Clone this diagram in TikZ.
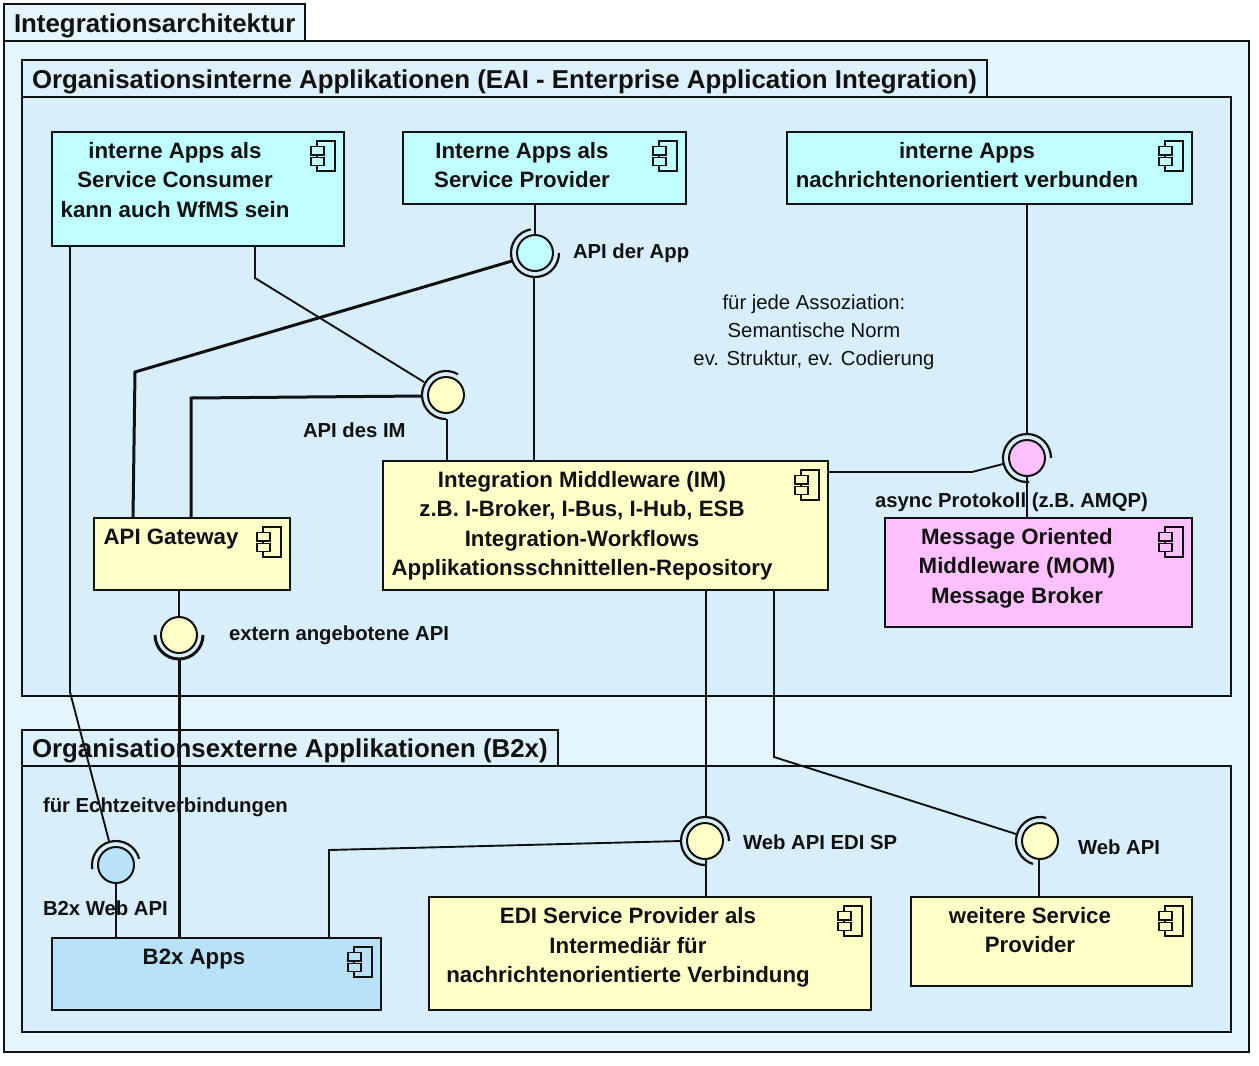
\documentclass[tikz,border=0pt]{standalone}
\usepackage{fontspec}
\setmainfont{Liberation Sans}
\usetikzlibrary{calc}
\definecolor{outerbg}{HTML}{E4F5FE}
\definecolor{innerbg}{HTML}{D8EEFB}
\definecolor{cy}{HTML}{BFFFFF}
\definecolor{ye}{HTML}{FFFFC8}
\definecolor{pk}{HTML}{FFC0FF}
\definecolor{bl}{HTML}{B8E2F8}
\definecolor{ln}{HTML}{111111}
\tikzset{
  x=1pt,y=-1pt,
  every node/.style={font=\fontsize{22.25}{29.5}\selectfont\bfseries,text=ln,inner sep=0pt,outer sep=0pt,align=center},
  boxstyle/.style={draw=ln,line width=1.8pt,rectangle,anchor=north west},
  tabtitle/.style={font=\fontsize{25.85}{30}\selectfont\bfseries,anchor=west},
  lab/.style={font=\fontsize{20.3}{28}\selectfont\bfseries,anchor=west},
  conn/.style={draw=ln,line width=1.9pt},
  heavy conn/.style={draw=ln,line width=3pt},
  ball/.style={circle,draw=ln,line width=2pt,minimum size=36pt},
  sock/.style={draw=ln,line width=2.2pt},
  icon/.style={line width=1.2pt,draw=ln}
}
\newcommand{\compbox}[6]{% name x1 y1 x2 y2 fill
  \node[boxstyle,fill=#6,minimum width=#4pt-#2pt,minimum height=#5pt-#3pt] (#1) at (#2,#3) {};
  \draw[icon] (#4-27,#3+9) rectangle (#4-9,#3+39);
  \draw[icon,fill=#6] (#4-33,#3+14.5) rectangle (#4-20,#3+23);
  \draw[icon,fill=#6] (#4-33,#3+25.5) rectangle (#4-20,#3+33.5);
}
\begin{document}
\begin{tikzpicture}
\useasboundingbox (0,0) rectangle (1259,1066);
\fill[white] (0,0) rectangle (1259,1066);
% packages
\draw[boxstyle,fill=outerbg] (4,4) rectangle (305,41);
\draw[boxstyle,fill=outerbg] (4,41) rectangle (1249,1052);
\draw[boxstyle,fill=innerbg!60!outerbg] (22,60) rectangle (987,97);
\draw[boxstyle,fill=innerbg] (22,97) rectangle (1231,696);
\draw[boxstyle,fill=innerbg!60!outerbg] (22,730) rectangle (558,766);
\draw[boxstyle,fill=innerbg] (22,766) rectangle (1231,1032);
\node[tabtitle] (t1) at (14,26) {Integrationsarchitektur};
\node[tabtitle] (t2) at (32,81.5) {Organisationsinterne Applikationen (EAI - Enterprise Application Integration)};
\node[tabtitle] (t3) at (32,751) {Organisationsexterne Applikationen (B2x)};
% boxes
\compbox{cons}{52}{132}{344}{246}{cy}
\compbox{prov}{403}{132}{686}{204}{cy}
\compbox{msga}{787}{132}{1192}{204}{cy}
\compbox{im}{383}{461}{828}{590}{ye}
\compbox{gw}{94}{518}{290}{590}{ye}
\compbox{mom}{885}{518}{1192}{627}{pk}
\compbox{b2x}{52}{938}{381}{1010}{bl}
\compbox{edi}{429}{897}{871}{1010}{ye}
\compbox{wsp}{911}{897}{1192}{986}{ye}
% free bend points
\coordinate (c1) at (70,692);
\coordinate (c2) at (255,278);
\coordinate (c3) at (135,372);
\coordinate (c4) at (191,398);
\coordinate (c5) at (972,472);
\coordinate (c6) at (774,757);
\coordinate (c7) at (329,850);
% interfaces
\node[ball,fill=cy] (iapp) at (535,253) {};
\node[ball,fill=ye] (iim) at (446,395) {};
\node[ball,fill=pk] (imom) at (1027,458) {};
\node[ball,fill=ye] (iext) at (179,635) {};
\node[ball,fill=bl] (ib2x) at (116,865) {};
\node[ball,fill=ye] (iedi) at (705,841) {};
\node[ball,fill=ye] (iweb) at (1040,841) {};
% sockets (y axis points down, so angles are negated)
\draw[sock] (iapp) ++(-100:24) arc[start angle=-100,end angle=-360,radius=24];
\draw[sock] (iim) ++(-60:24) arc[start angle=-60,end angle=-270,radius=24];
\draw[sock] (imom) ++(0:24) arc[start angle=0,end angle=-275,radius=24];
\draw[sock,line width=3pt] (iext) ++(-180:24) arc[start angle=-180,end angle=-360,radius=24];
\draw[sock] (ib2x) ++(-15:24) arc[start angle=-15,end angle=-190,radius=24];
\draw[sock] (iedi) ++(0:24) arc[start angle=0,end angle=-270,radius=24];
\draw[sock] (iweb) ++(-75:24) arc[start angle=-75,end angle=-253,radius=24];
% connectors
\draw[conn] (cons.south west -| c1) -- (c1) -- ($(ib2x)+(-7,-24)$);
\draw[conn] (cons.south -| c2) -- (c2) -- ($(iim)+(-22,-13)$);
\draw[conn] (prov.south -| iapp) -- ($(iapp)+(0,-17)$);
\draw[heavy conn] ($(iapp)+(-23,8)$) -- (c3) -- ($(gw.north west)+(39,0)$);
\draw[conn] ($(iapp)+(-1,24)$) -- (im.north -| 534,0);
\draw[heavy conn] ($(iim)+(-24,1)$) -- (c4) -- (gw.north -| c4);
\draw[conn] ($(iim)+(1,24)$) -- (im.north -| 447,0);
\draw[conn] (msga.south -| imom) -- ($(imom)+(0,-24)$);
\draw[conn] (im.north east |- c5) -- (c5) -- ($(imom)+(-24,6)$);
\draw[conn] ($(imom)+(0,17)$) -- (mom.north -| imom);
\draw[conn] (gw.south -| iext) -- ($(iext)+(0,-17)$);
\draw[heavy conn] ($(iext)+(0,24)$) -- (b2x.north -| iext);
\draw[conn] (im.south -| 706,0) -- ($(iedi)+(1,-24)$);
\draw[conn] (im.south -| c6) -- (c6) -- ($(iweb)+(-24,-7)$);
\draw[conn] (edi.north -| 706,0) -- ($(iedi)+(1,17)$);
\draw[conn] (wsp.north -| 1039,0) -- ($(iweb)+(-1,17)$);
\draw[conn] (b2x.north -| c7) -- (c7) -- ($(iedi)+(-24,0)$);
\draw[conn] ($(ib2x)+(0,17)$) -- (b2x.north -| ib2x);
% box texts
\node (tcons) at (175,180) {interne Apps als\\Service Consumer\\kann auch WfMS sein};
\node (tprov) at (522,165) {Interne Apps als\\Service Provider};
\node (tmsg) at (967,165) {interne Apps\\nachrichtenorientiert verbunden};
\node (tim) at (582,525.5) {Integration Middleware (IM)\\z.B. I-Broker, I-Bus, I-Hub, ESB\\Integration-Workflows\\Applikationsschnittellen-Repository};
\node (tgw) at (171,539) {API Gateway};
\node (tmom) at (1017,568) {Message Oriented\\Middleware (MOM)\\Message Broker};
\node (tb2x) at (194,959) {B2x Apps};
\node (tedi) at (628,947.5) {EDI Service Provider als\\Intermediär für\\nachrichtenorientierte Verbindung};
\node (twsp) at (1030,930) {weitere Service\\Provider};
% labels
\node[lab] (l1) at (573,253) {API der App};
\node[lab] (l2) at (303,430) {API des IM};
\node[lab] (l3) at (875,502) {async Protokoll (z.B. AMQP)};
\node[lab] (l4) at (229,635) {extern angebotene API};
\node[lab] (l5) at (43,807) {für Echtzeitverbindungen};
\node[lab] (l6) at (43,908) {B2x Web API};
\node[lab] (l7) at (743,842) {Web API EDI SP};
\node[lab] (l8) at (1078,847) {Web API};
\node[font=\fontsize{20.3}{28}\selectfont] (n) at (814,332) {für jede Assoziation:\\Semantische Norm\\ev. Struktur, ev. Codierung};
\end{tikzpicture}
\end{document}
